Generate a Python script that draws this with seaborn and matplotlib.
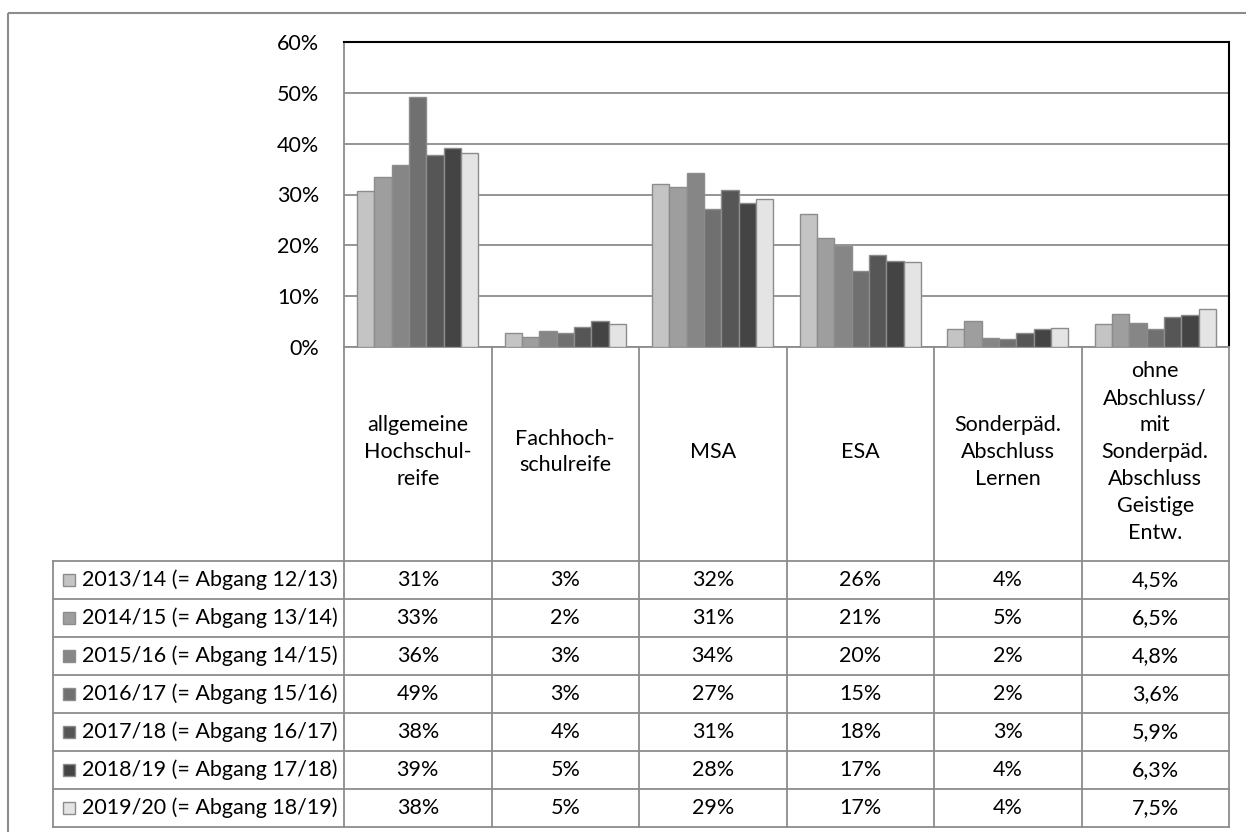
import matplotlib
matplotlib.use("Agg")
import matplotlib.pyplot as plt
from matplotlib.patches import Rectangle
import seaborn as sns
import pandas as pd

# Categories (Abschlussarten) and school years
categories = ["allgemeine\nHochschul-\nreife", "Fachhoch-\nschulreife", "MSA", "ESA",
              "Sonderpäd.\nAbschluss\nLernen",
              "ohne\nAbschluss/\nmit\nSonderpäd.\nAbschluss\nGeistige\nEntw."]
years = ["2013/14 (= Abgang 12/13)", "2014/15 (= Abgang 13/14)", "2015/16 (= Abgang 14/15)",
         "2016/17 (= Abgang 15/16)", "2017/18 (= Abgang 16/17)", "2018/19 (= Abgang 17/18)",
         "2019/20 (= Abgang 18/19)"]

# values in percent, one list per category (order = years)
allg_hochschulreife = [30.6, 33.4, 35.9, 49.2, 37.7, 39.2, 38.1]
fachhochschulreife = [2.8, 2.0, 3.2, 2.8, 3.9, 5.1, 4.5]
msa = [32.1, 31.4, 34.3, 27.1, 30.8, 28.3, 29.1]
esa = [26.2, 21.4, 19.9, 15.0, 18.1, 17.0, 16.7]
sonder_lernen = [3.6, 5.1, 1.7, 1.6, 2.8, 3.6, 3.8]
ohne_abschluss = [4.5, 6.5, 4.8, 3.6, 5.9, 6.3, 7.5]
decimals = [0, 0, 0, 0, 0, 1]

colors = ["#c4c4c4", "#9e9e9e", "#868686", "#707070", "#565656", "#444444", "#e4e4e4"]
yticks = [0, 10, 20, 30, 40, 50, 60]

series = [allg_hochschulreife, fachhochschulreife, msa, esa, sonder_lernen, ohne_abschluss]
rows = []
for cat, vals in zip(categories, series):
    for year, v in zip(years, vals):
        rows.append({"cat": cat, "year": year, "value": v / 100})
df = pd.DataFrame(rows)

FONT = ["Lato", "DejaVu Sans"]
FS = 15.5
plt.rcParams["font.family"] = FONT

W, H = 1246, 832
fig = plt.figure(figsize=(W / 100, H / 100), dpi=100)

# plot area in pixels
left, right, top, bottom = 344, 1229, 42, 347
ax = fig.add_axes([left / W, 1 - bottom / H, (right - left) / W, (bottom - top) / H])

sns.barplot(data=df, x="cat", y="value", hue="year", hue_order=years, order=categories,
            palette=colors, width=7 / 8.5, gap=0, edgecolor="#8c8c8c", linewidth=1,
            legend=False, ax=ax, zorder=3)

ax.set_ylim(0, 0.6)
ax.set_xlim(-0.5, len(categories) - 0.5)
ax.set_yticks([t / 100 for t in yticks])
ax.set_yticklabels([f"{t}%" for t in yticks], fontsize=FS)
ax.tick_params(axis="y", length=0, pad=18)
ax.set_xticks([])
ax.set_xlabel("")
ax.set_ylabel("")
ax.yaxis.grid(True, color="#8c8c8c", linewidth=1.3, zorder=0)
ax.set_axisbelow(True)
for s in ["top", "right"]:
    ax.spines[s].set_color("black")
    ax.spines[s].set_linewidth(1.5)
for s in ["left", "bottom"]:
    ax.spines[s].set_color("#8c8c8c")
    ax.spines[s].set_linewidth(1.3)

# overlay in pixel coordinates for the data table
ov = fig.add_axes([0, 0, 1, 1], zorder=5)
ov.set_xlim(0, W)
ov.set_ylim(H, 0)
ov.axis("off")

line_kw = dict(color="#8c8c8c", linewidth=1.3)
# outer chart border
ov.add_patch(Rectangle((8, 13), W + 10, H + 10, fill=False, edgecolor="#8c8c8c", linewidth=1.5))

n = len(categories)
col_w = (right - left) / n
col_x = [left + i * col_w for i in range(n + 1)]
header_bottom = 561
row_h = 38
table_left = 53
row_y = [header_bottom + i * row_h for i in range(len(years) + 1)]

# header cells
for x in col_x:
    ov.plot([x, x], [bottom, row_y[-1]], **line_kw)
ov.plot([table_left, table_left], [header_bottom, row_y[-1]], **line_kw)
for y in row_y:
    ov.plot([table_left, right], [y, y], **line_kw)
for i, cat in enumerate(categories):
    ov.text(col_x[i] + col_w / 2, (bottom + header_bottom) / 2 - 2, cat, ha="center", va="center",
            fontsize=FS, linespacing=1.43)

# data rows
for r, year in enumerate(years):
    yc = row_y[r] + row_h / 2
    ov.add_patch(Rectangle((63, yc - 6), 12, 12, facecolor=colors[r], edgecolor="#8c8c8c", linewidth=1))
    ov.text(82, yc, year, ha="left", va="center", fontsize=FS)
    for i, vals in enumerate(series):
        if decimals[i] == 0:
            label = f"{int(vals[r] + 0.5)}%"
        else:
            label = f"{vals[r]:.1f}%".replace(".", ",")
        ov.text(col_x[i] + col_w / 2, yc, label, ha="center", va="center", fontsize=FS)

fig.savefig("out.png", dpi=100)
